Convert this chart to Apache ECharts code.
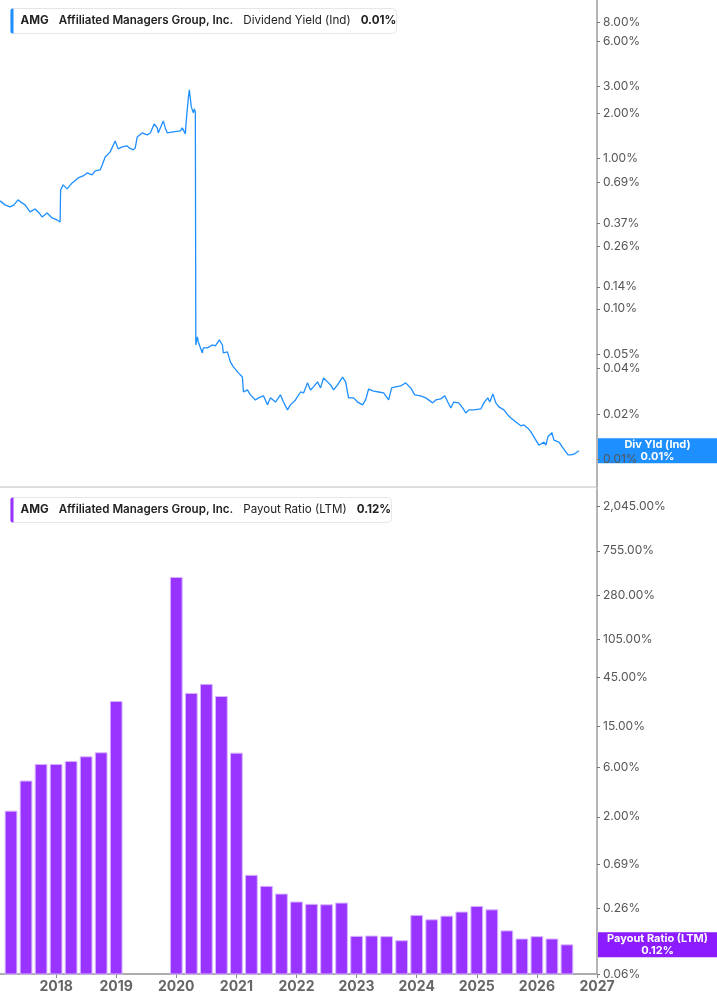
<!DOCTYPE html>
<html>
<head>
<meta charset="utf-8">
<script src="https://cdn.jsdelivr.net/npm/echarts@6/dist/echarts.min.js"></script>
<style>
html, body { margin: 0; padding: 0; background: #fff; }
#chart { width: 717px; height: 1005px; }
</style>
</head>
<body>
<div id="chart"></div>
<script>
// dividend yield (Ind), %
var yieldYears = [
  2017.067, 2017.150, 2017.233, 2017.300, 2017.367, 2017.433, 2017.483, 2017.567, 2017.650, 2017.717,
  2017.767, 2017.850, 2017.933, 2018.017, 2018.067, 2018.075, 2018.117, 2018.183, 2018.267, 2018.367,
  2018.450, 2018.517, 2018.600, 2018.650, 2018.733, 2018.767, 2018.817, 2018.900, 2018.933, 2018.983,
  2019.033, 2019.100, 2019.183, 2019.217, 2019.283, 2019.317, 2019.350, 2019.433, 2019.517, 2019.567,
  2019.633, 2019.683, 2019.700, 2019.783, 2019.817, 2019.850, 2019.950, 2020.067, 2020.100, 2020.150,
  2020.167, 2020.200, 2020.217, 2020.250, 2020.283, 2020.300, 2020.317, 2020.325, 2020.350, 2020.367,
  2020.433, 2020.450, 2020.517, 2020.600, 2020.650, 2020.717, 2020.767, 2020.783, 2020.850, 2020.900,
  2020.950, 2021.033, 2021.100, 2021.117, 2021.183, 2021.233, 2021.317, 2021.367, 2021.450, 2021.517,
  2021.567, 2021.650, 2021.733, 2021.783, 2021.850, 2021.900, 2021.983, 2022.067, 2022.117, 2022.183,
  2022.233, 2022.283, 2022.350, 2022.400, 2022.450, 2022.517, 2022.567, 2022.617, 2022.683, 2022.767,
  2022.817, 2022.867, 2022.950, 2023.017, 2023.100, 2023.150, 2023.200, 2023.283, 2023.367, 2023.450,
  2023.533, 2023.583, 2023.650, 2023.733, 2023.817, 2023.900, 2023.967, 2024.067, 2024.150, 2024.267,
  2024.317, 2024.400, 2024.467, 2024.517, 2024.567, 2024.617, 2024.700, 2024.767, 2024.817, 2024.867,
  2024.950, 2025.067, 2025.117, 2025.183, 2025.217, 2025.267, 2025.317, 2025.367, 2025.450, 2025.517,
  2025.567, 2025.650, 2025.733, 2025.783, 2025.850, 2025.900, 2025.950, 2026.033, 2026.117, 2026.150,
  2026.183, 2026.250, 2026.283, 2026.367, 2026.433, 2026.517, 2026.567, 2026.617, 2026.700
];
var yieldValues = [
  0.522, 0.491, 0.476, 0.491, 0.530, 0.506, 0.491, 0.441, 0.461, 0.434,
  0.408, 0.434, 0.402, 0.390, 0.378, 0.617, 0.667, 0.627, 0.687, 0.742,
  0.765, 0.801, 0.777, 0.826, 0.839, 0.905, 1.023, 1.105, 1.139, 1.307,
  1.157, 1.192, 1.211, 1.174, 1.139, 1.174, 1.390, 1.477, 1.433, 1.477,
  1.696, 1.595, 1.477, 1.776, 1.595, 1.477, 1.500, 1.523, 1.595, 1.455,
  1.803, 2.526, 2.855, 2.200, 2.007, 2.134, 2.038, 0.0575, 0.0650, 0.0602,
  0.0509, 0.0550, 0.0550, 0.0575, 0.0567, 0.0621, 0.0575, 0.0509, 0.0517, 0.0444,
  0.0411, 0.0375, 0.0352, 0.0280, 0.0289, 0.0268, 0.0248, 0.0256, 0.0264, 0.0230,
  0.0256, 0.0240, 0.0268, 0.0240, 0.0213, 0.0230, 0.0248, 0.0280, 0.0276, 0.0322,
  0.0289, 0.0303, 0.0327, 0.0298, 0.0347, 0.0327, 0.0312, 0.0289, 0.0312, 0.0352,
  0.0327, 0.0256, 0.0256, 0.0240, 0.0230, 0.0248, 0.0293, 0.0284, 0.0280, 0.0276,
  0.0248, 0.0298, 0.0303, 0.0307, 0.0322, 0.0298, 0.0268, 0.0264, 0.0256, 0.0237,
  0.0248, 0.0252, 0.0264, 0.0240, 0.0219, 0.0240, 0.0237, 0.0219, 0.0203, 0.0213,
  0.0213, 0.0216, 0.0237, 0.0256, 0.0240, 0.0272, 0.0237, 0.0223, 0.0213, 0.0197,
  0.0188, 0.0177, 0.0167, 0.0169, 0.0161, 0.0152, 0.0141, 0.0124, 0.0130, 0.0124,
  0.0141, 0.0150, 0.0134, 0.0130, 0.0119, 0.0107, 0.0107, 0.0108, 0.0114
];

// payout ratio (LTM), %, quarterly
var payoutQuarters = [
  2017.25, 2017.5, 2017.75, 2018.0, 2018.25, 2018.5, 2018.75, 2019.0,
  2020.0, 2020.25, 2020.5, 2020.75, 2021.0, 2021.25, 2021.5, 2021.75,
  2022.0, 2022.25, 2022.5, 2022.75, 2023.0, 2023.25, 2023.5, 2023.75,
  2024.0, 2024.25, 2024.5, 2024.75, 2025.0, 2025.25, 2025.5, 2025.75,
  2026.0, 2026.25, 2026.5
];
var payoutValues = [
  2.27, 4.44, 6.44, 6.44, 6.88, 7.63, 8.34, 26.2,
  417, 31.4, 38.4, 29.3, 8.28, 0.542, 0.424, 0.357,
  0.299, 0.284, 0.281, 0.292, 0.139, 0.140, 0.138, 0.126,
  0.222, 0.201, 0.218, 0.239, 0.271, 0.251, 0.157, 0.131,
  0.138, 0.131, 0.115
];

var yieldTicks = [8, 6, 3, 2, 1, 0.69, 0.37, 0.26, 0.14, 0.10, 0.05, 0.04, 0.02, 0.01];
var payoutTicks = [2045, 755, 280, 105, 45, 15, 6, 2, 0.69, 0.26, 0.06];
var yearTicks = [2018, 2019, 2020, 2021, 2022, 2023, 2024, 2025, 2026, 2027];

var xMin = 2017.0667, xMax = 2027;
var yieldMin = 0.00654, yieldMax = 11.3;
var payoutMin = 0.06, payoutMax = 3000;

var FONT = 'Inter, "Noto Sans", sans-serif';
var BLUE = '#1e8fff';
var PURPLE = '#9933ff';

var myChart = echarts.init(document.getElementById('chart'), null, { renderer: 'canvas' });

function pct(v) {
  return v.toLocaleString('en-US', { minimumFractionDigits: 2, maximumFractionDigits: 2 }) + '%';
}

function rightAxis(grid, min, max, ticks) {
  return {
    type: 'log',
    gridIndex: grid,
    position: 'right',
    min: min,
    max: max,
    axisLine: { show: true, lineStyle: { color: '#b4b4b4', width: 2 } },
    axisTick: { show: true, customValues: ticks, length: 3, lineStyle: { color: '#777', width: 1 } },
    axisLabel: {
      customValues: ticks,
      formatter: function (v) { return pct(v); },
      color: '#555', fontSize: 12, fontFamily: FONT, margin: 6
    },
    splitLine: { show: false }
  };
}

var yieldData = yieldYears.map(function (y, i) { return [y, yieldValues[i]]; });
var payoutData = payoutQuarters.map(function (q, i) { return [q, payoutValues[i]]; });

option = {
  animation: false,
  backgroundColor: '#fff',
  grid: [
    { left: 0, right: 120, top: 0, height: 487 },
    { left: 0, right: 120, top: 489, bottom: 31 }
  ],
  xAxis: [
    { type: 'value', gridIndex: 0, min: xMin, max: xMax, show: false },
    {
      type: 'value', gridIndex: 1, min: xMin, max: xMax,
      axisLine: { show: true, lineStyle: { color: '#adadad', width: 2 } },
      axisTick: { show: true, customValues: yearTicks, length: 4, lineStyle: { color: '#888' } },
      axisLabel: {
        customValues: yearTicks,
        formatter: function (v) { return String(Math.round(v)); },
        color: '#666', fontSize: 14, fontWeight: 'bold', fontFamily: FONT, margin: 6
      },
      splitLine: { show: false }
    }
  ],
  yAxis: [
    rightAxis(0, yieldMin, yieldMax, yieldTicks),
    rightAxis(1, payoutMin, payoutMax, payoutTicks)
  ],
  series: [
    {
      name: 'Dividend Yield (Ind)',
      type: 'line',
      xAxisIndex: 0, yAxisIndex: 0,
      data: yieldData,
      showSymbol: false,
      lineStyle: { color: BLUE, width: 1.3 },
      itemStyle: { color: BLUE }
    },
    {
      name: 'Payout Ratio (LTM)',
      type: 'custom',
      xAxisIndex: 1, yAxisIndex: 1,
      data: payoutData,
      encode: { x: 0, y: 1 },
      renderItem: function (params, api) {
        var top = api.coord([api.value(0), api.value(1)]);
        var base = api.coord([api.value(0), payoutMin]);
        var w = api.size([0.25, 0])[0] * 0.78;
        return {
          type: 'rect',
          shape: { x: top[0] - w / 2, y: top[1], width: w, height: base[1] - top[1] },
          style: { fill: PURPLE, stroke: '#d6b5ff', lineWidth: 1 }
        };
      }
    }
  ]
};
myChart.setOption(option);

// header boxes + current value tags on the axes
function header(y, color, metric, val, w) {
  return {
    type: 'group', left: 10, top: y,
    children: [
      { type: 'rect', shape: { x: 0, y: 0, width: w, height: 25, r: 4 },
        style: { fill: '#fff', stroke: '#e6e6e6', lineWidth: 1 } },
      { type: 'rect', shape: { x: 0, y: 0, width: 3, height: 25, r: [2, 0, 0, 2] },
        style: { fill: color } },
      { type: 'text', x: 10, y: 12.5,
        style: {
          text: '{a|AMG}   {b|Affiliated Managers Group, Inc.}   {c|' + metric + '}   {a|' + val + '}',
          verticalAlign: 'middle',
          rich: {
            a: { fontFamily: FONT, fontSize: 11.6, fontWeight: 'bold', fill: '#222' },
            b: { fontFamily: FONT, fontSize: 11.6, fontWeight: 600, fill: '#222' },
            c: { fontFamily: FONT, fontSize: 11.6, fill: '#222' }
          }
        } }
    ]
  };
}

function tag(yCenter, color, name, val) {
  return {
    type: 'group', left: 598, top: yCenter - 12.5, z: 100,
    children: [
      { type: 'rect', shape: { x: 0, y: 0, width: 119, height: 25 }, style: { fill: color } },
      { type: 'text', x: 59.5, y: 12.5,
        style: {
          text: name + '\n' + val, align: 'center', verticalAlign: 'middle',
          fill: '#fff', fontFamily: FONT, fontSize: 11, fontWeight: 'bold', lineHeight: 12
        } }
    ]
  };
}

var lastYield = yieldData[yieldData.length - 1];
var lastPayout = payoutData[payoutData.length - 1];
var yTag1 = myChart.convertToPixel({ gridIndex: 0 }, lastYield)[1];
var yTag2 = myChart.convertToPixel({ gridIndex: 1 }, lastPayout)[1];

myChart.setOption({
  graphic: [
    { type: 'rect', left: 0, top: 486, shape: { width: 597, height: 2 }, style: { fill: '#dedede' } },
    header(8, BLUE, 'Dividend Yield (Ind)', '0.01%', 386),
    header(497, PURPLE, 'Payout Ratio (LTM)', '0.12%', 381),
    tag(yTag1, BLUE, 'Div Yld (Ind)', '0.01%'),
    tag(yTag2, '#8c1cff', 'Payout Ratio (LTM)', '0.12%')
  ]
});
</script>
</body>
</html>
